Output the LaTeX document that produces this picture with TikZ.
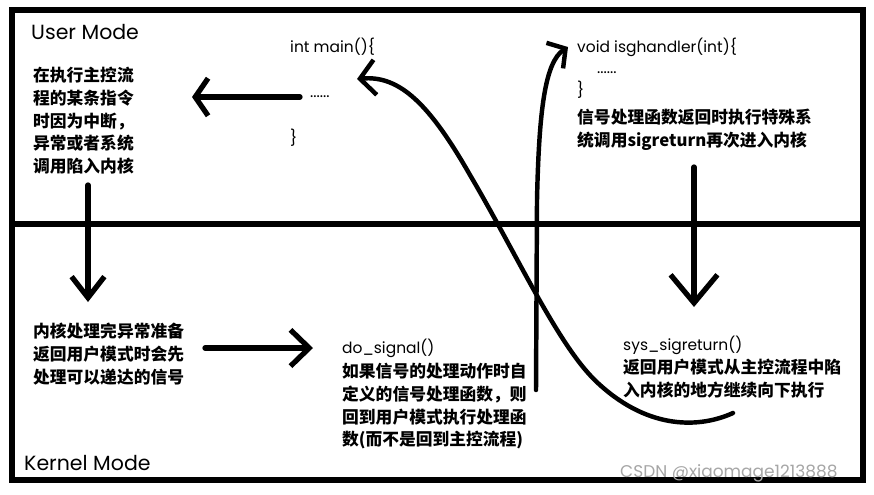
\documentclass[tikz,border=0pt]{standalone}
\usepackage{fontspec}
\setmainfont{Poppins}
\newfontfamily\cjk{Noto Sans CJK SC}
\usetikzlibrary{arrows.meta,positioning}

\begin{document}
\begin{tikzpicture}[x=0.03cm,y=-0.03cm,
  mode/.style={font=\fontsize{17.5}{20}\selectfont,inner sep=0pt,anchor=west},
  code/.style={font=\fontsize{13.2}{15}\selectfont,inner sep=0pt,anchor=west},
  note/.style={font=\cjk\bfseries\fontsize{14.3}{19.4}\selectfont,align=left,inner sep=0pt,anchor=north west},
  frame/.style={line width=4.3pt},
  a/.style={line width=4.5pt,line cap=round},
  c/.style={line width=3.8pt,line cap=round}
]
  \fill[white] (0,0) rectangle (874,494);
  \useasboundingbox (0,0) rectangle (874,494);
  % frame and the user/kernel border
  \draw[frame] (12,10) rectangle (863,480);
  \draw[frame] (12,224) -- (866,224);
  \node[mode] (user) at (31,32) {User Mode};
  \node[mode] (kernel) at (24,463) {Kernel Mode};

  % user mode
  \node[note] (trap) at (33,67) {在执行主控流\\程的某条指令\\时因为中断，\\异常或者系统\\调用陷入内核};
  \node[code] (main) at (290,47) {int main()\{};
  \node[code] (dots1) at (310,97) {......};
  \node[code] (brace1) at (290,138) {\}};
  \node[code] (isg) at (577,47) {void isghandler(int)\{};
  \node[code] (dots2) at (597,73) {......};
  \node[code] (brace2) at (577,90) {\}};
  \node[note] (sigret) at (577,109) {信号处理函数返回时执行特殊系\\统调用sigreturn再次进入内核};

  % kernel mode
  \node[note] (kwork) at (33,323) {内核处理完异常准备\\返回用户模式时会先\\处理可以递达的信号};
  \node[code] (dosig) at (342,348) {do\_signal()};
  \node[note] (dosignote) at (342,363) {如果信号的处理动作时自\\定义的信号处理函数，则\\回到用户模式执行处理函\\数(而不是回到主控流程)};
  \node[code] (sysret) at (623,345) {sys\_sigreturn()};
  \node[note] (sysretnote) at (623,359) {返回用户模式从主控流程中陷\\入内核的地方继续向下执行};
  \node[anchor=west,inner sep=0pt,text=black!35,font=\fontsize{14.5}{16}\selectfont] (mark) at (620,473) {CSDN @xiaomage1213888};

  % connector ends
  \coordinate (l1) at (300,97);
  \coordinate (l2) at (192,97);
  \coordinate (d1) at (88,185);
  \coordinate (d2) at (88,302);
  \coordinate (r1) at (205,348);
  \coordinate (r2) at (313,348);
  \coordinate (e1) at (694,167);
  \coordinate (e2) at (694,307);
  \coordinate (u1) at (536,390);
  \coordinate (u2) at (568,47);
  \coordinate (b1) at (733,413);
  \coordinate (b2) at (357,79);

  \draw[a,-{Straight Barb[length=11pt,width=32pt]}] (l1) -- (l2);
  \draw[a,-{Straight Barb[length=18pt,width=28pt]}] (d1) -- (d2);
  \draw[a,-{Straight Barb[length=16pt,width=31pt]}] (r1) -- (r2);
  \draw[a,-{Straight Barb[length=24pt,width=40pt]}] (e1) -- (e2);
  \draw[c,-{Straight Barb[length=11pt,width=26pt]}] (u1) -- (537,200)
    .. controls (539,110) and (545,62) .. (u2);
  \draw[c,-{Straight Barb[length=13pt,width=30pt]}] (b1)
    .. controls (700,428) and (650,430) .. (600,385)
    .. controls (560,350) and (520,260) .. (470,175)
    .. controls (430,105) and (400,75) .. (b2);
\end{tikzpicture}
\end{document}
